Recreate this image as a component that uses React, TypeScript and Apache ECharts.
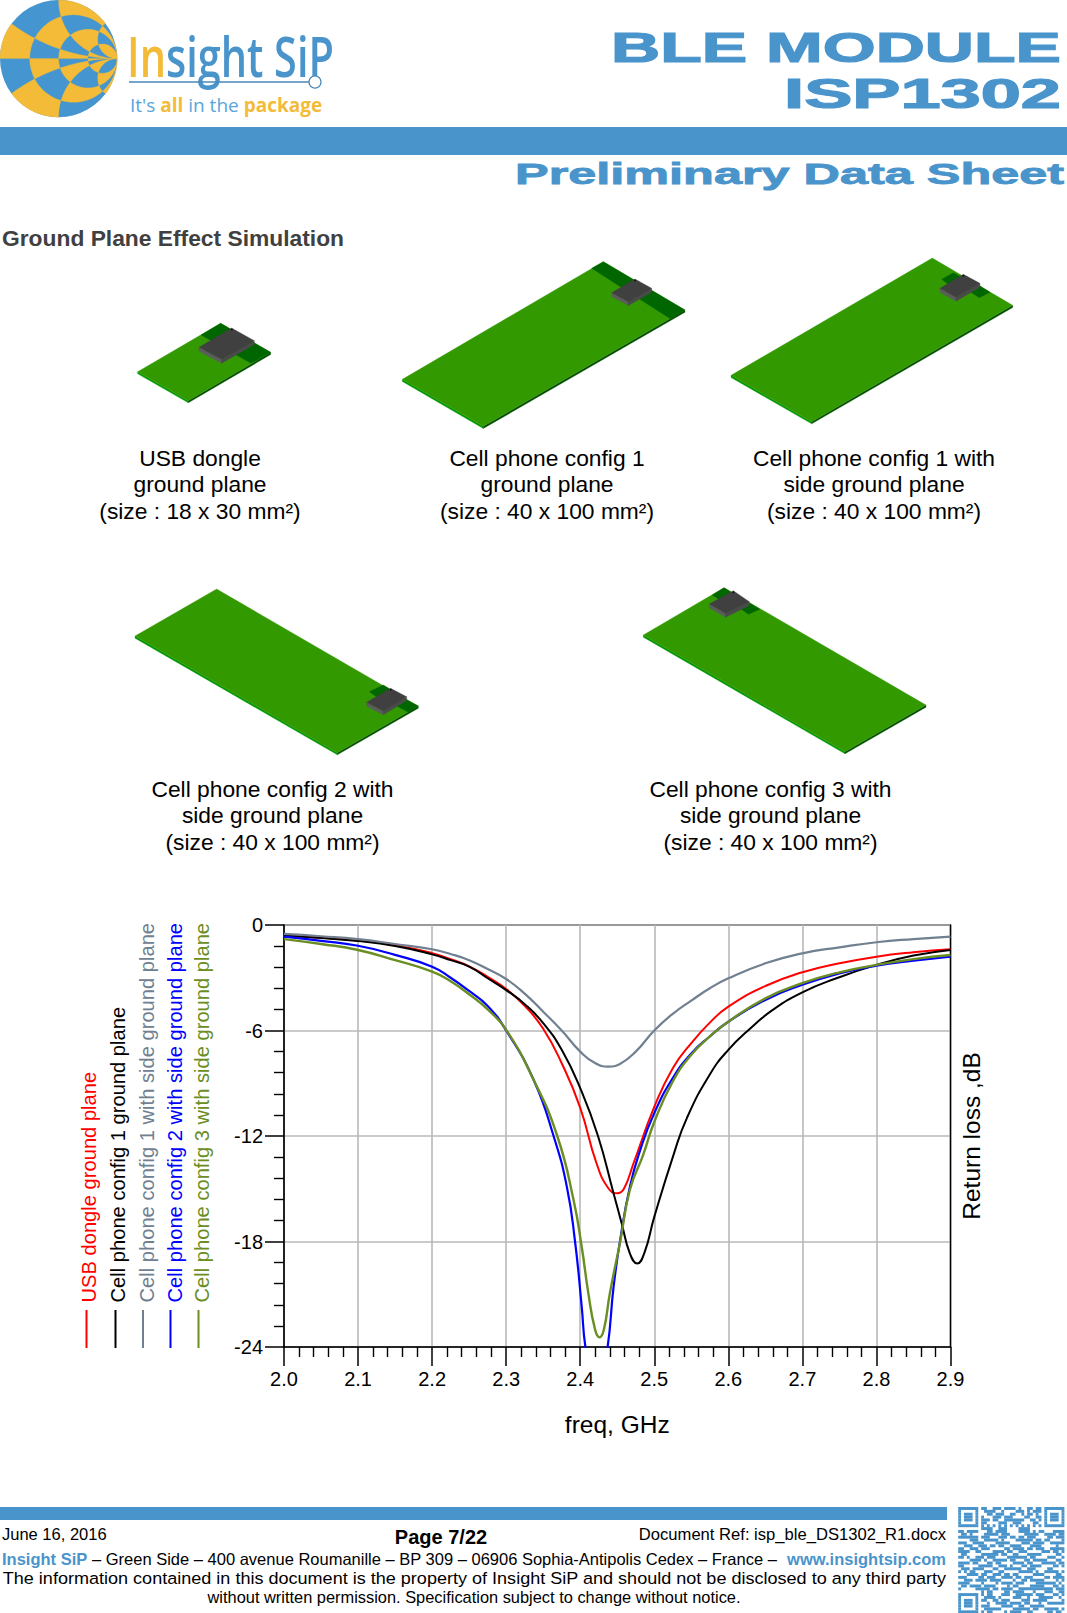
import React, { useEffect, useRef } from "react";
import * as echarts from "echarts";

const W = 1067;
const H = 1613;
const FONT = "'Liberation Sans', Arial, sans-serif";
const BLUE = "#4a94cc";
const YELLOW = "#f3bb37";

// ---- chart data ----
const xTicksMin = 2.0;
const xTicksMax = 2.9;
const redFreq = [2.0, 2.05, 2.1, 2.15, 2.2, 2.225, 2.25, 2.275, 2.3, 2.325, 2.35, 2.375, 2.4, 2.422, 2.438, 2.45, 2.459, 2.472, 2.5, 2.525, 2.55, 2.575, 2.6, 2.65, 2.7, 2.75, 2.8, 2.85, 2.9];
const redDb = [-0.6, -0.72, -0.88, -1.15, -1.6, -1.95, -2.35, -2.95, -3.64, -4.6, -5.9, -7.86, -10.4, -13.55, -14.97, -15.26, -15, -13.55, -10.35, -8.14, -6.72, -5.55, -4.64, -3.47, -2.69, -2.18, -1.8, -1.55, -1.38];
const blackFreq = [2.0, 2.05, 2.1, 2.15, 2.2, 2.225, 2.25, 2.275, 2.3, 2.325, 2.35, 2.375, 2.4, 2.424, 2.445, 2.456, 2.467, 2.477, 2.487, 2.5, 2.526, 2.544, 2.575, 2.6, 2.63, 2.66, 2.7, 2.746, 2.8, 2.85, 2.9];
const blackDb = [-0.6, -0.74, -0.91, -1.2, -1.67, -2.0, -2.37, -3.03, -3.7, -4.5, -5.58, -7.1, -9.28, -12, -15.26, -16.97, -18.67, -19.25, -18.6, -16.6, -13.07, -10.98, -8.5, -7.1, -5.87, -4.83, -3.83, -3.03, -2.27, -1.74, -1.42];
const grayFreq = [2.0, 2.05, 2.1, 2.15, 2.2, 2.225, 2.25, 2.275, 2.3, 2.325, 2.35, 2.375, 2.4, 2.42, 2.438, 2.4536, 2.475, 2.5, 2.525, 2.55, 2.575, 2.6, 2.65, 2.7, 2.75, 2.8, 2.85, 2.9];
const grayDb = [-0.51, -0.64, -0.8, -1.08, -1.38, -1.65, -2.0, -2.5, -3.07, -3.9, -4.93, -6.0, -7.2, -7.85, -8.05, -7.9, -7.2, -6.0, -5.05, -4.3, -3.6, -3.03, -2.18, -1.61, -1.27, -0.98, -0.8, -0.66];
const blueFreq = [2.0, 2.05, 2.1, 2.15, 2.2, 2.225, 2.25, 2.275, 2.3, 2.337, 2.364, 2.382, 2.393, 2.402, 2.407, 2.422, 2.437, 2.445, 2.454, 2.467, 2.481, 2.5, 2.525, 2.55, 2.575, 2.6, 2.65, 2.7, 2.75, 2.8, 2.85, 2.9];
const blueDb = [-0.66, -0.9, -1.18, -1.7, -2.37, -3.0, -3.75, -4.6, -6.0, -8.8, -12, -14.9, -18, -21.7, -24, -27.5, -24, -20.6, -17.9, -14.9, -12.8, -10.7, -8.7, -7.3, -6.34, -5.5, -4.26, -3.4, -2.75, -2.31, -2.03, -1.8];
const oliveFreq = [2.0, 2.05, 2.1, 2.15, 2.2, 2.225, 2.25, 2.275, 2.3, 2.337, 2.369, 2.391, 2.402, 2.411, 2.42, 2.426, 2.432, 2.44, 2.454, 2.467, 2.485, 2.5, 2.525, 2.55, 2.575, 2.6, 2.65, 2.7, 2.75, 2.8, 2.85, 2.9];
const oliveDb = [-0.8, -1.08, -1.42, -2.0, -2.65, -3.2, -3.94, -4.8, -5.96, -8.8, -12, -15.64, -18.3, -20.95, -23, -23.45, -23, -20.95, -18, -15.07, -13.07, -11.2, -8.9, -7.38, -6.34, -5.5, -4.17, -3.31, -2.69, -2.27, -1.94, -1.71];

const seriesNames = [
  "USB dongle ground plane",
  "Cell phone config 1 ground plane",
  "Cell phone config 1 with side ground plane",
  "Cell phone config 2 with side ground plane",
  "Cell phone config 3 with side ground plane",
];
const seriesColors = ["#ff0000", "#000000", "#708090", "#0000ff", "#6b8e23"];
const seriesWidths = [2, 2, 2.2, 2.2, 2.4];
const seriesFreq = [redFreq, blackFreq, grayFreq, blueFreq, oliveFreq];
const seriesDb = [redDb, blackDb, grayDb, blueDb, oliveDb];
const legendTextX = [88.5, 118, 146.5, 174.5, 202];
const legendLineX = [86.5, 115.5, 143, 170.5, 198.5];

// ---- page text ----
const captions = [
  { cx: 200, y: 457.5, lines: ["USB dongle", "ground plane", "(size : 18 x 30 mm²)"] },
  { cx: 547, y: 457.5, lines: ["Cell phone config 1", "ground plane", "(size : 40 x 100 mm²)"] },
  { cx: 874, y: 457.5, lines: ["Cell phone config 1 with", "side ground plane", "(size : 40 x 100 mm²)"] },
  { cx: 272.5, y: 788.5, lines: ["Cell phone config 2 with", "side ground plane", "(size : 40 x 100 mm²)"] },
  { cx: 770.5, y: 788.5, lines: ["Cell phone config 3 with", "side ground plane", "(size : 40 x 100 mm²)"] },
];

// ---- illustrations: [origin x, origin y, board corners, ground patches, chip corners] in 3x crop units ----
type P = number[];
const boards: { o: P; b: P[]; g: P[][]; c: P[] }[] = [
  {
    o: [125, 250],
    b: [[38, 365], [287, 220], [437, 307], [190, 452]],
    g: [[[228, 255], [287, 220], [437, 307], [378, 340]]],
    c: [[222, 292], [320, 234], [388, 272], [290, 328]],
  },
  {
    o: [400, 250],
    b: [[7, 388], [610, 35], [855, 180], [250, 529]],
    g: [[[575, 55], [610, 35], [855, 180], [812, 207]]],
    c: [[635, 128], [705, 87], [755, 115], [685, 155]],
  },
  {
    o: [600, 250],
    b: [[393, 376], [997, 24], [1238, 166], [635, 515]],
    g: [
      [[1025, 88], [1060, 68], [1082, 80], [1045, 103]],
      [[1110, 125], [1140, 108], [1170, 127], [1138, 143]],
    ],
    c: [[1020, 115], [1090, 73], [1140, 100], [1068, 142]],
  },
  {
    o: [125, 580],
    b: [[30, 168], [275, 27], [880, 378], [637, 518]],
    g: [
      [[733, 335], [775, 315], [800, 330], [760, 355]],
      [[815, 378], [845, 360], [880, 378], [850, 397]],
    ],
    c: [[725, 367], [797, 325], [845, 350], [775, 393]],
  },
  {
    o: [630, 580],
    b: [[40, 165], [282, 23], [888, 375], [645, 515]],
    g: [
      [[247, 45], [282, 23], [310, 40], [270, 60]],
      [[330, 85], [360, 70], [390, 88], [355, 103]],
    ],
    c: [[238, 72], [310, 32], [358, 65], [287, 100]],
  },
];

const qrFinder = ["1111111", "1000001", "1011101", "1011101", "1011101", "1000001", "1111111"];
const qrTop = [
  "110011101111010011011",
  "011110010000111010111",
  "001101110011001011010",
  "100011101110000110011",
  "111011001111111001101",
  "110000111001110000110",
  "101010101010101010101",
];
const qrMiddle = [
  "0000000011110011100001111000000000000",
  "1101111000110111100001111010110001111",
  "0110100001111101110000011111001111011",
  "1111111011100011101101101110000110111",
  "0000111001111101000011111101101100001",
  "1110011110000111110000111011110011111",
  "0011100111011011001111000111100000100",
  "1100111011100000110111101101110011111",
  "1111001100001111011001110000011101101",
  "0110000011111101100110001111100000110",
  "1101001110111000011111110110000111001",
  "0000111101001111101100011011111000110",
  "1111011000110110000111101100011111011",
  "1100000111110011101000110111100001101",
  "0111011110001100111111001110000110000",
  "1010110001110011000001111101001111101",
  "0001111011001110110110000011110000110",
  "1110000110111001111011011100001101111",
  "0011101111011110000100110111110000101",
  "1111000010000101111011100001111111010",
  "0110111101111000010110000111110001101",
  "1000001111101101111001111111111110111",
  "0000000010110000110111100010001110011",
];
const qrBottom = [
  "10110001110011111101110001101",
  "01111010000111001000111110010",
  "11001101110000111011111000001",
  "00100111101111011000100111111",
  "11100001111001100111110000000",
  "01111110000111111011001111101",
  "10110000101111001100000110110",
];

function fitScale(text: string, font: string, width: number) {
  const ctx = document.createElement("canvas").getContext("2d")!;
  ctx.font = font;
  return width / ctx.measureText(text).width;
}

function txt(text: string, x: number, y: number, size: number, fill: string, opts: any = {}) {
  const { bold, align, scaleX, stroke, family, rotation, weight } = opts;
  return {
    type: "text",
    x,
    y,
    scaleX: scaleX ?? 1,
    rotation: rotation ?? 0,
    silent: true,
    style: {
      text,
      x: 0,
      y: 0,
      fill,
      fontSize: size,
      fontWeight: weight ?? (bold ? "bold" : "normal"),
      fontFamily: family ?? FONT,
      textAlign: align ?? "left",
      textVerticalAlign: "middle",
      stroke: stroke ?? undefined,
      lineWidth: stroke ? opts.lw ?? 1 : 0,
    },
  };
}

function fitted(text: string, right: number, y: number, size: number, width: number, fill: string, bold: boolean, stroke?: string, lw?: number) {
  const font = `${bold ? "bold " : ""}${size}px 'Liberation Sans'`;
  const s = fitScale(text, font, width);
  return txt(text, right, y, size, fill, { bold, align: "right", scaleX: s, stroke, lw });
}

function poly(points: P[], fill: string) {
  return { type: "polygon", silent: true, shape: { points }, style: { fill, stroke: fill, lineWidth: 0.3 } };
}

function smithCells(cx: number, cy: number, R: number) {
  const rEdges = [0, 0.34, 1, 3, 5000];
  const xEdges = [0, 0.33, 1, 3, 5000];
  const map = (r: number, x: number): P => {
    const d = (r + 1) * (r + 1) + x * x;
    const gr = (r * r + x * x - 1) / d;
    const gi = (2 * x) / d;
    return [cx + R * gr, cy - R * gi];
  };
  const s = (v: number) => v / (1 + v);
  const u = (t: number) => t / (1 - t);
  const out: any[] = [];
  const N = 14;
  for (let ri = 0; ri < 4; ri++) {
    for (let xi = 0; xi < 4; xi++) {
      for (const sign of [1, -1]) {
        const parity = (ri + xi + (sign < 0 ? 1 : 0)) % 2;
        if (parity !== 0) continue;
        const pts: P[] = [];
        const r0 = s(rEdges[ri]), r1 = s(rEdges[ri + 1]);
        const x0 = s(xEdges[xi]), x1 = s(xEdges[xi + 1]);
        for (let i = 0; i <= N; i++) pts.push(map(u(r0 + ((r1 - r0) * i) / N), sign * u(x0)));
        for (let i = 0; i <= N; i++) pts.push(map(u(r1), sign * u(x0 + ((x1 - x0) * i) / N)));
        for (let i = N; i >= 0; i--) pts.push(map(u(r0 + ((r1 - r0) * i) / N), sign * u(x1)));
        for (let i = N; i >= 0; i--) pts.push(map(u(r0), sign * u(x0 + ((x1 - x0) * i) / N)));
        out.push(poly(pts, YELLOW));
      }
    }
  }
  return out;
}

function boardShapes() {
  const out: any[] = [];
  for (const bd of boards) {
    const t = (p: P): P => [bd.o[0] + p[0] / 3, bd.o[1] + p[1] / 3];
    const b = bd.b.map(t);
    const down = (p: P, d: number): P => [p[0], p[1] + d];
    const th = 2.2;
    out.push(poly([b[0], b[3], down(b[3], th), down(b[0], th)], "#009900"));
    out.push(poly([b[3], b[2], down(b[2], th), down(b[3], th)], "#004d00"));
    out.push(poly(b, "#339900"));
    for (const g of bd.g) out.push(poly(g.map(t), "#006600"));
    const c = bd.c.map(t);
    const ch = 3.8;
    out.push(poly([c[0], c[3], down(c[3], ch), down(c[0], ch)], "#5c5c5c"));
    out.push(poly([c[3], c[2], down(c[2], ch), down(c[3], ch)], "#4a4a4a"));
    out.push(poly(c, "#404040"));
    out.push({ type: "circle", silent: true, shape: { cx: c[1][0], cy: c[1][1] + 1.5, r: 0.9 }, style: { fill: "#111" } });
  }
  return out;
}

function qrShapes() {
  const rows: string[] = [];
  for (let i = 0; i < 7; i++) rows.push(qrFinder[i] + "0" + qrTop[i] + "0" + qrFinder[i]);
  rows.push(...qrMiddle);
  for (let i = 0; i < 7; i++) rows.push(qrFinder[i] + "0" + qrBottom[i]);
  const out: any[] = [];
  const m = 2.87;
  const x0 = 958.2, y0 = 1507;
  rows.forEach((row, ry) => {
    let cx = 0;
    while (cx < row.length) {
      if (row[cx] === "1") {
        let e = cx;
        while (e + 1 < row.length && row[e + 1] === "1") e++;
        out.push({
          type: "rect",
          silent: true,
          shape: { x: x0 + cx * m, y: y0 + ry * m, width: (e - cx + 1) * m, height: m + 0.1 },
          style: { fill: BLUE },
        });
        cx = e + 1;
      } else cx++;
    }
  });
  return out;
}

function pageGraphic() {
  const els: any[] = [];
  // logo
  els.push({ type: "circle", silent: true, shape: { cx: 58.6, cy: 58.6, r: 58.6 }, style: { fill: "#4495d0" } });
  els.push(...smithCells(58.6, 58.6, 58.6));
  els.push({
    type: "text",
    x: 127,
    y: 55,
    scaleX: 0.74,
    silent: true,
    style: {
      text: "{y|In}{b|sight SiP}",
      x: 0,
      y: 0,
      textVerticalAlign: "middle",
      fontFamily: "'Open Sans'",
      fontSize: 56,
      rich: {
        y: { fill: YELLOW, fontSize: 56, fontWeight: 600, fontFamily: "'Open Sans'" },
        b: { fill: BLUE, fontSize: 56, fontWeight: 600, fontFamily: "'Open Sans'" },
      },
    },
  });
  els.push({ type: "line", silent: true, shape: { x1: 129, y1: 82, x2: 309, y2: 82 }, style: { stroke: "#4a87b8", lineWidth: 1.4 } });
  els.push({ type: "circle", silent: true, shape: { cx: 315, cy: 82, r: 6 }, style: { fill: "#fff", stroke: "#4a87b8", lineWidth: 1.2 } });
  els.push({
    type: "text",
    x: 130,
    y: 105,
    silent: true,
    style: {
      text: "{b|It's }{y|all}{b| in the }{y|package}",
      x: 0,
      y: 0,
      textVerticalAlign: "middle",
      fontFamily: "'Open Sans'",
      fontSize: 19,
      rich: {
        y: { fill: YELLOW, fontSize: 19, fontWeight: "bold", fontFamily: "'Open Sans'" },
        b: { fill: "#5aa5da", fontSize: 19, fontFamily: "'Open Sans'" },
      },
    },
  });
  // header
  els.push(fitted("BLE MODULE", 1061, 48, 42, 450, BLUE, true, BLUE, 1.2));
  els.push(fitted("ISP1302", 1061, 94, 42, 277, BLUE, true, BLUE, 1.2));
  els.push({ type: "rect", silent: true, shape: { x: 0, y: 127, width: W, height: 28 }, style: { fill: BLUE } });
  els.push(fitted("Preliminary Data Sheet", 1064, 174.5, 29, 549, BLUE, true, BLUE, 0.8));
  els.push(txt("Ground Plane Effect Simulation", 2, 238, 22.8, "#404040", { bold: true }));
  // boards
  els.push(...boardShapes());
  // captions
  for (const c of captions) {
    c.lines.forEach((l, i) => els.push(txt(l, c.cx, c.y + i * 26.6, 22.8, "#000", { align: "center" })));
  }
  // legend (rotated)
  seriesNames.forEach((n, i) => {
    els.push(txt(n, legendTextX[i], 1302.5, 20.15, seriesColors[i], { rotation: Math.PI / 2 }));
    els.push({
      type: "line",
      silent: true,
      shape: { x1: legendLineX[i], y1: 1310, x2: legendLineX[i], y2: 1348 },
      style: { stroke: seriesColors[i], lineWidth: 2 },
    });
  });
  // footer
  els.push({ type: "rect", silent: true, shape: { x: 0, y: 1507, width: 947, height: 13 }, style: { fill: BLUE } });
  els.push(txt("June 16, 2016", 2, 1534, 16.5, "#000"));
  els.push(txt("Page 7/22", 441, 1537, 20, "#000", { bold: true, align: "center" }));
  els.push(txt("Document Ref: isp_ble_DS1302_R1.docx", 946, 1534, 16.6, "#000", { align: "right" }));
  els.push(txt("Insight SiP", 2, 1559, 16.5, BLUE, { bold: true }));
  els.push(txt("– Green Side – 400 avenue Roumanille – BP 309 – 06906 Sophia-Antipolis Cedex – France –", 92, 1559, 16.5, "#000"));
  els.push(txt("www.insightsip.com", 946, 1559, 16.5, BLUE, { bold: true, align: "right" }));
  const notice = "The information contained in this document is the property of Insight SiP and should not be disclosed to any third party";
  els.push(fitted(notice, 946, 1578, 16.5, 944, "#000", false));
  els.push(txt("without written permission. Specification subject to change without notice.", 474, 1597, 16.4, "#000", { align: "center" }));
  els.push(...qrShapes());
  return els;
}

export default function App() {
  const ref = useRef<HTMLDivElement>(null);
  useEffect(() => {
    document.body.style.margin = "0";
    const chart = echarts.init(ref.current!, undefined, { renderer: "svg", width: W, height: H });
    const axisLabelBase = { color: "#000", fontSize: 20, fontFamily: FONT };
    chart.setOption({
      animation: false,
      backgroundColor: "#fff",
      textStyle: { fontFamily: FONT },
      grid: { left: 284, top: 925, width: 666.5, height: 422, show: true, borderColor: "#000", borderWidth: 1.4, backgroundColor: "transparent" },
      xAxis: {
        type: "value",
        min: xTicksMin,
        max: xTicksMax,
        interval: 0.1,
        name: "freq, GHz",
        nameLocation: "middle",
        nameGap: 65,
        nameTextStyle: { color: "#000", fontSize: 24.5, fontFamily: FONT },
        axisLine: { onZero: false, lineStyle: { color: "#000", width: 1.6 } },
        axisTick: { length: 19, lineStyle: { color: "#000", width: 1.5 } },
        minorTick: { show: true, splitNumber: 5, length: 10, lineStyle: { color: "#000", width: 1.4 } },
        axisLabel: { ...axisLabelBase, margin: 22, formatter: (v: number) => v.toFixed(1) },
        splitLine: { show: true, lineStyle: { color: "#b8b8b8", width: 1.6 } },
      },
      yAxis: [
        {
          type: "value",
          min: -24,
          max: 0,
          interval: 6,
          axisLine: { onZero: false, lineStyle: { color: "#000", width: 1.6 } },
          axisTick: { length: 19, lineStyle: { color: "#000", width: 1.5 } },
          minorTick: { show: true, splitNumber: 5, length: 10, lineStyle: { color: "#000", width: 1.4 } },
          axisLabel: { ...axisLabelBase, margin: 21 },
          splitLine: { show: true, lineStyle: { color: "#b8b8b8", width: 1.6 } },
        },
        {
          type: "value",
          position: "right",
          min: -24,
          max: 0,
          interval: 6,
          name: "Return loss ,dB",
          nameLocation: "middle",
          nameRotate: 90,
          nameGap: 8,
          nameTextStyle: { color: "#000", fontSize: 24.5, fontFamily: FONT },
          axisLine: { show: true, onZero: false, lineStyle: { color: "#000", width: 1.2 } },
          axisTick: { show: false },
          axisLabel: { show: false },
          splitLine: { show: false },
        },
      ],
      series: seriesNames.map((name, i) => ({
        name,
        type: "line",
        showSymbol: false,
        smooth: 0.5,
        clip: true,
        color: seriesColors[i],
        lineStyle: { color: seriesColors[i], width: seriesWidths[i] },
        data: seriesFreq[i].map((f, k) => [f, seriesDb[i][k]]),
      })),
      graphic: { elements: pageGraphic() },
    });
    return () => chart.dispose();
  }, []);
  return <div ref={ref} style={{ position: "absolute", left: 0, top: 0, width: W, height: H, background: "#fff" }} />;
}
